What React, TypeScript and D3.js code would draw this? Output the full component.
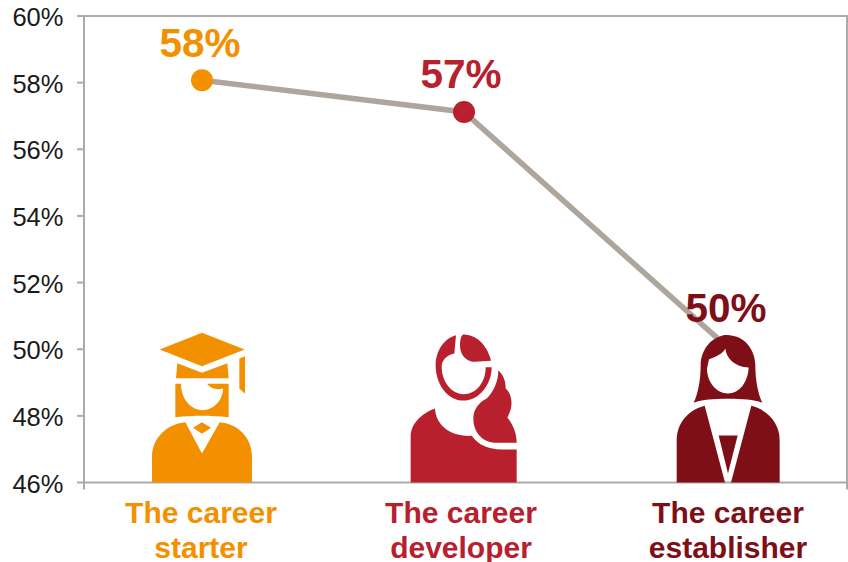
import React from "react";
import * as d3 from "d3";

const categories = ["starter", "developer", "establisher"];
const labelLines = [
  ["The career", "starter"],
  ["The career", "developer"],
  ["The career", "establisher"],
];
const values = [58.07, 57.12, 50.1];
const valueLabels = ["58%", "57%", "50%"];
const colors = ["#F39000", "#B8202E", "#7E0F17"];
const yTicks = [46, 48, 50, 52, 54, 56, 58, 60];

const W = 848;
const H = 562;
const axisColor = "#ABABAB";
const lineColor = "#AEA59D";
const font = "'Liberation Sans', Arial, sans-serif";

const x = d3.scalePoint<string>().domain(categories).range([202, 726]);
const y = d3.scaleLinear().domain([46, 60]).range([482.5, 16]);
const line = d3
  .line<number>()
  .x((_, i) => x(categories[i]) as number)
  .y((d) => y(d));

function Starter({ c }: { c: string }) {
  return (
    <g fill={c}>
      <path d="M215,38L343,88L215,138L88,88Z" />
      <path d="M141,129L215,158L291,129L295,174L137,174Z" />
      <path d="M327,115L344,108L344,221L327,205Z" />
      <path d="M135,191H152C152,240 185,270 215,270C250,270 278,240 278,205C258,210 240,205 230,191H295V291C240,285 190,285 135,291Z" />
      <path d="M65,487V410C65,350 115,310 165,306L215,400L268,306C320,310 365,350 365,410V487Z" />
      <path d="M215,306L242,323L215,341L188,323Z" />
    </g>
  );
}

function Developer({ c }: { c: string }) {
  return (
    <g fill={c}>
      <path d="M183,45C145,55 122,95 122,135C122,195 160,241 205,241C255,241 290,190 290,141L272,141C272,185 245,222 205,222C170,222 140,185 140,140C140,120 155,105 178,100Z" />
      <path d="M195,75C195,110 220,125 240,125L288,122C280,85 250,42 205,43C198,45 195,60 195,75Z" />
      <path d="M310,150C325,165 332,180 332,205C350,220 358,255 337,292C355,315 365,340 365,368L300,368C260,365 235,335 235,295C235,265 255,245 275,235C295,215 310,185 310,150Z" />
      <path d="M47,487V350C47,310 80,280 120,265C122,310 160,350 230,347C250,375 280,388 320,388H365V487Z" />
    </g>
  );
}

function Establisher({ c }: { c: string }) {
  return (
    <g>
      <path
        fill={c}
        d="M205,135C255,135 287,180 287,225C287,270 295,310 308,338C280,328 250,326 205,326C160,326 130,328 102,338C115,310 123,270 123,225C123,180 155,135 205,135Z"
      />
      <path
        fill="#fff"
        d="M148,207C170,200 190,190 197,175C200,205 225,230 267,232C265,275 240,310 205,310C170,310 142,275 142,235Z"
      />
      <g fill={c}>
        <path d="M51,577V450C51,400 85,360 135,347L196,577Z" />
        <path d="M360,577V450C360,400 325,360 275,347L214,577Z" />
        <path d="M177,436H234L205,550Z" />
      </g>
    </g>
  );
}

const icons = [
  { C: Starter, ax: 215, base: 487 },
  { C: Developer, ax: 207, base: 487 },
  { C: Establisher, ax: 205, base: 577 },
];

export default function App() {
  const axisX = 84;
  const y0 = y(46);
  const yTop = y(60);
  return (
    <svg
      width={W}
      height={H}
      viewBox={`0 0 ${W} ${H}`}
      style={{ position: "absolute", left: 0, top: 0, background: "#fff" }}
      fontFamily={font}
    >
      <g stroke={axisColor} strokeWidth={2}>
        <line x1={axisX - 7} x2={W} y1={yTop} y2={yTop} />
        <line x1={axisX} x2={W} y1={y0} y2={y0} />
        <line x1={axisX} x2={axisX} y1={yTop} y2={y0 + 7} />
        <line x1={W - 1} x2={W - 1} y1={yTop} y2={y0 + 7} />
        {yTicks.map((t) => (
          <line key={t} x1={axisX - 7} x2={axisX} y1={y(t)} y2={y(t)} />
        ))}
      </g>
      {yTicks.map((t) => (
        <text key={t} x={63.5} y={y(t) + 10} textAnchor="end" fontSize={25.5} fill="#1a1a1a">
          {t}%
        </text>
      ))}
      <path d={line(values) ?? ""} fill="none" stroke={lineColor} strokeWidth={5.5} />
      {values.map((v, i) => (
        <circle key={i} cx={x(categories[i])} cy={y(v)} r={11} fill={colors[i]} />
      ))}
      {icons.map(({ C, ax, base }, i) => (
        <g
          key={i}
          transform={`translate(${(x(categories[i]) as number) + [0, 0, 2][i] - ax / 3},${y0 - base / 3}) scale(${1 / 3})`}
        >
          <C c={colors[i]} />
        </g>
      ))}
      {values.map((v, i) => (
        <text
          key={i}
          x={(x(categories[i]) as number) - [2, 3, 0][i]}
          y={y(v) - 23.5}
          textAnchor="middle"
          fontSize={40.5}
          fontWeight={700}
          fill={colors[i]}
        >
          {valueLabels[i]}
        </text>
      ))}
      {labelLines.map((lines, i) =>
        lines.map((s, j) => (
          <text
            key={j}
            x={(x(categories[i]) as number) - [1, 3, -2][i]}
            y={522.5 + j * 35}
            textAnchor="middle"
            fontSize={30}
            fontWeight={700}
            fill={colors[i]}
          >
            {s}
          </text>
        ))
      )}
    </svg>
  );
}
